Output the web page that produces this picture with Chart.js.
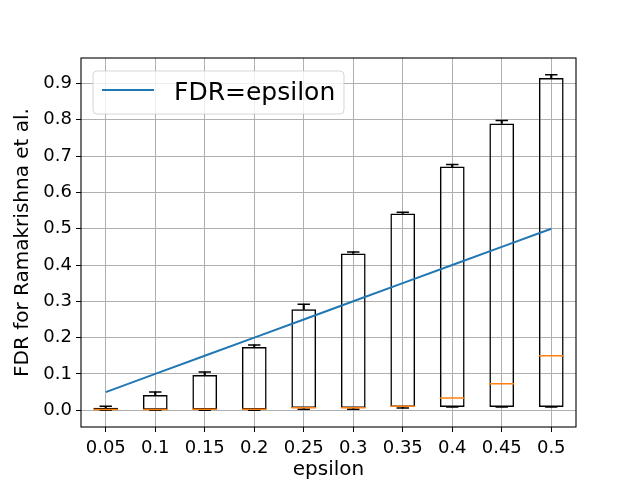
<!DOCTYPE html>
<html>
<head>
<meta charset="utf-8">
<script src="https://cdn.jsdelivr.net/npm/chart.js@4.4.0/dist/chart.umd.min.js"></script>
<style>
  html, body { margin: 0; padding: 0; background: #fff; }
  #wrap { width: 640px; height: 480px; }
</style>
</head>
<body>
<div id="wrap"><canvas id="myChart" width="640" height="480"></canvas></div>
<script>
// values
const epsilons = ['0.05', '0.1', '0.15', '0.2', '0.25', '0.3', '0.35', '0.4', '0.45', '0.5'];
const fdrLine  = [0.05, 0.1, 0.15, 0.2, 0.25, 0.3, 0.35, 0.4, 0.45, 0.5];
const whiskLo  = [0.000, 0.000, 0.000, 0.000, 0.003, 0.003, 0.006, 0.009, 0.009, 0.009];
const q1       = [0.001, 0.001, 0.002, 0.002, 0.006, 0.006, 0.009, 0.009, 0.009, 0.009];
const medians  = [0.002, 0.002, 0.003, 0.003, 0.007, 0.007, 0.011, 0.034, 0.073, 0.150];
const q3       = [0.007, 0.042, 0.097, 0.174, 0.278, 0.432, 0.542, 0.671, 0.790, 0.915];
const whiskHi  = [0.011, 0.050, 0.105, 0.180, 0.292, 0.436, 0.545, 0.677, 0.798, 0.924];

const FONT = "'DejaVu Sans', sans-serif";

// half of a box width in px (box = 0.5 of a category slot)
function boxHalf(chart) {
    const a = chart.chartArea;
    if (!a) return 12;
    return a.width / epsilons.length * 0.25;
}

const framePlugin = {
    id: 'frame',
    afterDraw(chart) {
        const c = chart.ctx, a = chart.chartArea;
        c.save();
        c.strokeStyle = '#000';
        c.lineWidth = 1.1;
        c.strokeRect(a.left, a.top, a.right - a.left, a.bottom - a.top);

        // legend, upper left inside the axes
        const ds = chart.data.datasets[0];
        const x = a.left + 12, y = a.top + 13, w = 251, h = 43, r = 4;
        c.beginPath();
        c.moveTo(x + r, y);
        c.arcTo(x + w, y, x + w, y + h, r);
        c.arcTo(x + w, y + h, x, y + h, r);
        c.arcTo(x, y + h, x, y, r);
        c.arcTo(x, y, x + w, y, r);
        c.closePath();
        c.fillStyle = 'rgba(255,255,255,0.8)';
        c.fill();
        c.strokeStyle = 'rgba(204,204,204,0.8)';
        c.lineWidth = 1;
        c.stroke();

        c.beginPath();
        c.moveTo(x + 9, y + 19);
        c.lineTo(x + 61, y + 19);
        c.strokeStyle = ds.borderColor;
        c.lineWidth = 2;
        c.stroke();

        c.fillStyle = '#000';
        c.font = '25px ' + FONT;
        c.textBaseline = 'alphabetic';
        c.fillText(ds.label, x + 81, y + 29);
        c.restore();
    }
};

const ctx = document.getElementById('myChart').getContext('2d');
const myChart = new Chart(ctx, {
    type: 'bar',
    data: {
        labels: epsilons,
        datasets: [
            {
                type: 'line',
                label: 'FDR=epsilon',
                data: fdrLine,
                borderColor: '#1f77b4',
                borderWidth: 2,
                pointRadius: 0,
                order: 0
            },
            {
                label: 'box',
                data: q1.map((v, i) => [v, q3[i]]),
                backgroundColor: 'rgba(0,0,0,0)',
                borderColor: '#000',
                borderWidth: 1.5,
                borderSkipped: false,
                barPercentage: 0.5,
                categoryPercentage: 1,
                grouped: false,
                order: 3
            },
            {
                label: 'upper whisker',
                data: q3.map((v, i) => [v, whiskHi[i]]),
                backgroundColor: '#000',
                borderWidth: 0,
                barThickness: 1.5,
                grouped: false,
                order: 4
            },
            {
                label: 'lower whisker',
                data: q1.map((v, i) => [whiskLo[i], v]),
                backgroundColor: '#000',
                borderWidth: 0,
                barThickness: 1.5,
                grouped: false,
                order: 4
            },
            {
                type: 'line',
                label: 'caps high',
                data: whiskHi,
                showLine: false,
                pointStyle: 'line',
                pointRadius: c => boxHalf(c.chart) / 2,
                pointHoverRadius: c => boxHalf(c.chart) / 2,
                pointBorderColor: '#000',
                pointBorderWidth: 1.5,
                order: 2
            },
            {
                type: 'line',
                label: 'caps low',
                data: whiskLo,
                showLine: false,
                pointStyle: 'line',
                pointRadius: c => boxHalf(c.chart) / 2,
                pointHoverRadius: c => boxHalf(c.chart) / 2,
                pointBorderColor: '#000',
                pointBorderWidth: 1.5,
                order: 2
            },
            {
                type: 'line',
                label: 'median',
                data: medians,
                showLine: false,
                pointStyle: 'line',
                pointRadius: c => boxHalf(c.chart),
                pointHoverRadius: c => boxHalf(c.chart),
                pointBorderColor: '#ff7f0e',
                pointBorderWidth: 1.5,
                order: 1
            }
        ]
    },
    options: {
        responsive: false,
        animation: false,
        devicePixelRatio: 1,
        layout: { padding: { top: 58, right: 64, left: 0, bottom: 0 } },
        plugins: {
            legend: { display: false },
            tooltip: { enabled: false }
        },
        scales: {
            x: {
                offset: true,
                grid: { offset: false, color: '#b0b0b0', lineWidth: 1, tickColor: '#000', tickLength: 5 },
                border: { display: false },
                ticks: { color: '#000', font: { family: FONT, size: 18 }, padding: 6, maxRotation: 0 },
                title: { display: true, text: 'epsilon', color: '#000', font: { family: FONT, size: 20 }, padding: { top: 0, bottom: -2 } },
                afterFit: s => { s.height = 53; }
            },
            y: {
                min: -0.0462,
                max: 0.9702,
                grid: { color: '#b0b0b0', lineWidth: 1, tickColor: '#000', tickLength: 5 },
                border: { display: false },
                ticks: {
                    stepSize: 0.1,
                    includeBounds: false,
                    color: '#000',
                    font: { family: FONT, size: 18 },
                    padding: 4,
                    callback: v => v.toFixed(1)
                },
                title: { display: true, text: 'FDR for Ramakrishna et al.', color: '#000', font: { family: FONT, size: 20 }, padding: { top: 11, bottom: 0 } },
                afterFit: s => { s.width = 81; }
            }
        }
    },
    plugins: [framePlugin]
});
</script>
</body>
</html>
